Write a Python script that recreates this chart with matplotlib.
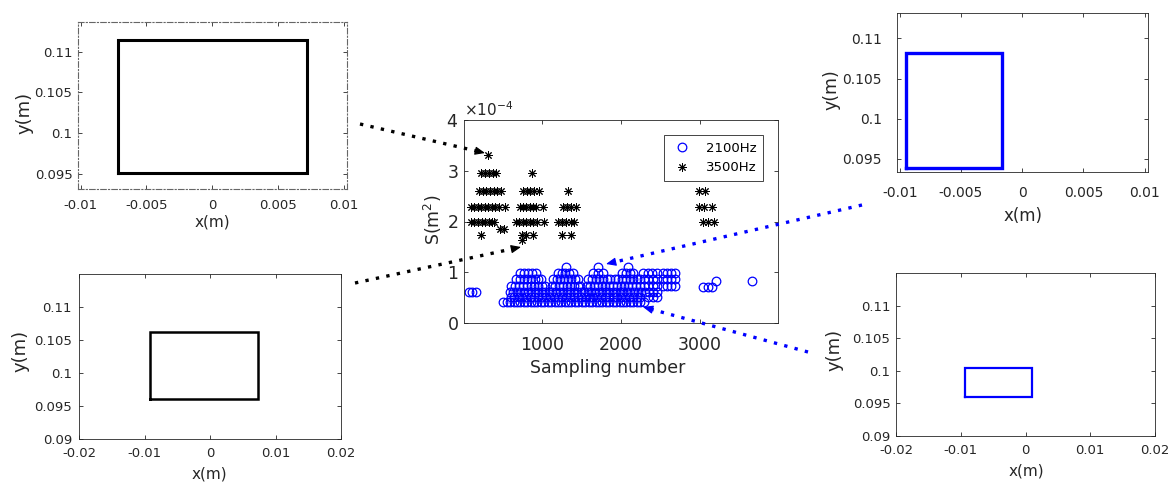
import numpy as np
import matplotlib
matplotlib.use("Agg")
import matplotlib.pyplot as plt

plt.rcParams["font.family"] = ["DejaVu Sans"]
plt.rcParams["axes.unicode_minus"] = False

# ── DATA ────────────────────────────────────────────────────────────────────
# contact area S (x1e-4 m^2) vs sampling number, 2100 Hz excitation
lv_2100 = [0.41, 0.51, 0.62, 0.72, 0.86, 0.99, 1.11]
n2100_041 = [510, 552, 594, 641, 683, 722, 768, 811, 853, 898, 941, 983, 1029, 1071,
             1113, 1158, 1201, 1243, 1289, 1331, 1372, 1418, 1461, 1503, 1548, 1591,
             1632, 1679, 1721, 1763, 1808, 1851, 1893, 1938, 1981, 2022, 2068, 2111,
             2153, 2198, 2241, 2288]
n2100_051 = [605, 648, 702, 745, 798, 853, 897, 951, 1004, 1046, 1102, 1155, 1198, 1251,
             1306, 1349, 1402, 1455, 1497, 1553, 1604, 1648, 1701, 1752, 1797, 1853,
             1906, 1949, 2002, 2055, 2098, 2151, 2203, 2245, 2342, 2405, 2462]
n2100_062 = [588, 632, 681, 726, 770, 817, 860, 905, 951, 996, 1040, 1087, 1130, 1176,
             1221, 1265, 1311, 1356, 1400, 1446, 1491, 1535, 1581, 1626, 1670, 1716,
             1760, 1806, 1851, 1895, 1941, 1985, 2031, 2076, 2120, 2166, 2210, 2256,
             2300, 2352, 2410, 2455]
n2100_072 = [610, 660, 712, 758, 806, 855, 903, 952, 1001, 1035, 1120, 1168, 1215, 1262,
             1311, 1358, 1405, 1452, 1478, 1566, 1612, 1660, 1707, 1756, 1803, 1851,
             1900, 1948, 1995, 2043, 2090, 2138, 2186, 2240, 2290, 2345, 2400, 2455,
             2535, 2585, 2635, 2680]
n2100_086 = [672, 718, 766, 812, 860, 906, 952, 990, 1140, 1186, 1232, 1280, 1326, 1372,
             1418, 1457, 1586, 1632, 1680, 1726, 1772, 1820, 1866, 1922, 1968, 2015,
             2062, 2108, 2155, 2200, 2242, 2292, 2348, 2405, 2458, 2532, 2582, 2632, 2684]
n2100_099 = [715, 770, 822, 872, 925, 1200, 1248, 1296, 1342, 1388, 1645, 1705, 1770,
             2010, 2060, 2108, 2152, 2282, 2338, 2395, 2455, 2530, 2582, 2634, 2686]
n2100_111 = [1308, 1711, 2085]
n2100_extra = [70, 115, 160, 3040, 3105, 3150, 3200, 3655]
s2100_extra = [0.62, 0.62, 0.62, 0.70, 0.70, 0.70, 0.82, 0.82]

# 3500 Hz excitation
lv_3500 = [3.32, 2.96, 2.61, 2.28, 1.99, 1.85, 1.73, 1.64]
n3500_332 = [320]
n3500_296 = [225, 275, 325, 375, 420, 870]
n3500_261 = [205, 250, 295, 340, 385, 430, 478, 760, 805, 850, 900, 955, 1332, 2995, 3062]
n3500_228 = [98, 140, 185, 228, 272, 318, 362, 405, 452, 525, 715, 758, 800, 842, 885,
             928, 1008, 1262, 1310, 1360, 1432, 2992, 3048, 3155]
n3500_199 = [98, 142, 188, 232, 278, 322, 368, 395, 672, 712, 755, 798, 842, 885, 930,
             1030, 1205, 1250, 1300, 1360, 1410, 3045, 3100, 3180]
n3500_185 = [465, 515]
n3500_173 = [225, 740, 790, 880, 1255, 1365]
n3500_164 = [750]

# contact patch outlines [x0, x1, y0, y1] in m
box_tl = [-0.00715, 0.00717, 0.0951, 0.1114]
box_tr = [-0.00951, -0.00168, 0.09386, 0.10821]
box_bl = [-0.00919, 0.0073, 0.09602, 0.10621]
box_br = [-0.00942, 0.00103, 0.0960, 0.10037]

ticks_small_x = [-0.01, -0.005, 0, 0.005, 0.01]
labels_small_x = ["-0.01", "-0.005", "0", "0.005", "0.01"]
ticks_small_y = [0.095, 0.1, 0.105, 0.11]
labels_small_y = ["0.095", "0.1", "0.105", "0.11"]
ticks_wide_x = [-0.02, -0.01, 0, 0.01, 0.02]
labels_wide_x = ["-0.02", "-0.01", "0", "0.01", "0.02"]
ticks_wide_y = [0.09, 0.095, 0.1, 0.105, 0.11]
labels_wide_y = ["0.09", "0.095", "0.1", "0.105", "0.11"]

# pointer arrows (figure pixels, origin top-left): start, tip, colour
arrows = [
    ((360, 124), (485, 153), "black"),
    ((355, 283), (521, 247), "black"),
    ((862, 205), (606, 264), "blue"),
    ((808, 352), (643, 307), "blue"),
]

W, H = 1173, 488
GREY = "#262626"


def fig_rect(left, right, top, bottom):
    """pixel box -> add_axes rectangle"""
    return [left / W, (H - bottom) / H, (right - left) / W, (bottom - top) / H]


def style_axes(ax, fs, xpad, ypad):
    for sp in ax.spines.values():
        sp.set_color(GREY)
        sp.set_linewidth(0.6)
    ax.tick_params(direction="in", length=3, width=0.6, colors=GREY,
                   labelsize=fs, top=True, right=True)
    ax.tick_params(axis="x", pad=xpad)
    ax.tick_params(axis="y", pad=ypad)


def draw_panel(fig, rect, box, color, lw, xlim, ylim, xt, xtl, yt, ytl,
               fs, xpad, ypad, xl_pos, yl_pos, xl_fs, yl_fs):
    ax = fig.add_axes(rect)
    x0, x1, y0, y1 = box
    ax.plot([x0, x1, x1, x0, x0], [y0, y0, y1, y1, y0], color=color, lw=lw,
            solid_joinstyle="miter")
    ax.set_xlim(*xlim)
    ax.set_ylim(*ylim)
    ax.set_xticks(xt)
    ax.set_xticklabels(xtl)
    ax.set_yticks(yt)
    ax.set_yticklabels(ytl)
    style_axes(ax, fs, xpad, ypad)
    ax.set_xlabel("x(m)", fontsize=xl_fs, color=GREY, va="center")
    ax.set_ylabel("y(m)", fontsize=yl_fs, color=GREY, va="center")
    ax.xaxis.set_label_coords(*xl_pos)
    ax.yaxis.set_label_coords(*yl_pos)
    return ax


fig = plt.figure(figsize=(W / 100, H / 100), dpi=100)

# ── centre scatter ──
ax = fig.add_axes(fig_rect(464, 778, 120, 323))
rows_2100 = [n2100_041, n2100_051, n2100_062, n2100_072, n2100_086, n2100_099, n2100_111]
rows_3500 = [n3500_332, n3500_296, n3500_261, n3500_228, n3500_199, n3500_185,
             n3500_173, n3500_164]
n21 = np.concatenate([np.array(r, float) for r in rows_2100] + [np.array(n2100_extra, float)])
s21 = np.concatenate([np.full(len(r), v) for r, v in zip(rows_2100, lv_2100)]
                     + [np.array(s2100_extra)])
n35 = np.concatenate([np.array(r, float) for r in rows_3500])
s35 = np.concatenate([np.full(len(r), v) for r, v in zip(rows_3500, lv_3500)])

ax.plot(n21, s21 * 1e-4, "o", ls="none", mfc="none", mec="blue", ms=6.2, mew=0.9,
        label="2100Hz")
ax.plot(n35, s35 * 1e-4, marker=(8, 2, 0), ls="none", color="black", ms=6, mew=0.7,
        label="3500Hz")
ax.set_xlim(10, 3990)
ax.set_ylim(0, 4e-4)
ax.set_xticks([1000, 2000, 3000])
ax.set_yticks([0, 1e-4, 2e-4, 3e-4, 4e-4])
ax.ticklabel_format(axis="y", style="sci", scilimits=(0, 0), useMathText=True)
ax.yaxis.get_offset_text().set_fontsize(11)
ax.yaxis.get_offset_text().set_color(GREY)
style_axes(ax, 12.5, 9.5, 4)
ax.set_xlabel("Sampling number", fontsize=12.5, color=GREY, va="center")
ax.set_ylabel("S(m$^2$)", fontsize=12.5, color=GREY, va="center")
ax.xaxis.set_label_coords(0.459, -0.222)
ax.yaxis.set_label_coords(-0.099, 0.507)
leg = ax.legend(loc="upper right", bbox_to_anchor=(0.953, 0.926), borderaxespad=0,
                fancybox=False, edgecolor=GREY, framealpha=1, fontsize=9.5,
                handletextpad=0.9, borderpad=0.5, labelspacing=0.5, handlelength=1.8)
leg.get_frame().set_linewidth(0.6)

# ── side panels ──
tl = draw_panel(fig, fig_rect(78, 347, 22, 189), box_tl, "black", 2.2,
                (-0.0102, 0.01024), (0.09316, 0.11364),
                ticks_small_x, labels_small_x, ticks_small_y, labels_small_y,
                9.5, 7, 4, (0.498, -0.20), (-0.20, 0.455), 11, 13)
for sp in tl.spines.values():
    sp.set_linestyle((0, (5, 2, 1, 2)))
    sp.set_color("#666666")
    sp.set_linewidth(0.8)

draw_panel(fig, fig_rect(897, 1148, 13, 172), box_tr, "blue", 2.4,
           (-0.01022, 0.01027), (0.09335, 0.11318),
           ticks_small_x, labels_small_x, ticks_small_y, labels_small_y,
           10, 10, 11, (0.502, -0.274), (-0.26, 0.516), 12, 12.5)

draw_panel(fig, fig_rect(79, 341, 274, 439), box_bl, "black", 1.8,
           (-0.02, 0.02), (0.09, 0.115),
           ticks_wide_x, labels_wide_x, ticks_wide_y, labels_wide_y,
           9.5, 6, 5, (0.499, -0.21), (-0.223, 0.536), 11, 13)

draw_panel(fig, fig_rect(896, 1155, 273, 436), box_br, "blue", 1.6,
           (-0.02, 0.02), (0.09, 0.115),
           ticks_wide_x, labels_wide_x, ticks_wide_y, labels_wide_y,
           9.5, 6, 4, (0.502, -0.214), (-0.2355, 0.531), 11, 13)

# ── dotted pointers on a full-figure overlay ──
ov = fig.add_axes([0, 0, 1, 1], zorder=10)
ov.set_xlim(0, W)
ov.set_ylim(H, 0)
ov.axis("off")
for (x0, y0), (x1, y1), c in arrows:
    d = np.array([x1 - x0, y1 - y0], float)
    d /= np.hypot(*d)
    bx, by = x1 - d[0] * 8, y1 - d[1] * 8
    ov.plot([x0, bx], [y0, by], color=c, lw=2.4, ls=(0, (1, 2.2)))
    ov.annotate("", xy=(x1, y1), xytext=(bx, by),
                arrowprops=dict(arrowstyle="-|>,head_length=0.6,head_width=0.25",
                                color=c, lw=0.8, shrinkA=0, shrinkB=0))

fig.savefig("out.png", dpi=100)
